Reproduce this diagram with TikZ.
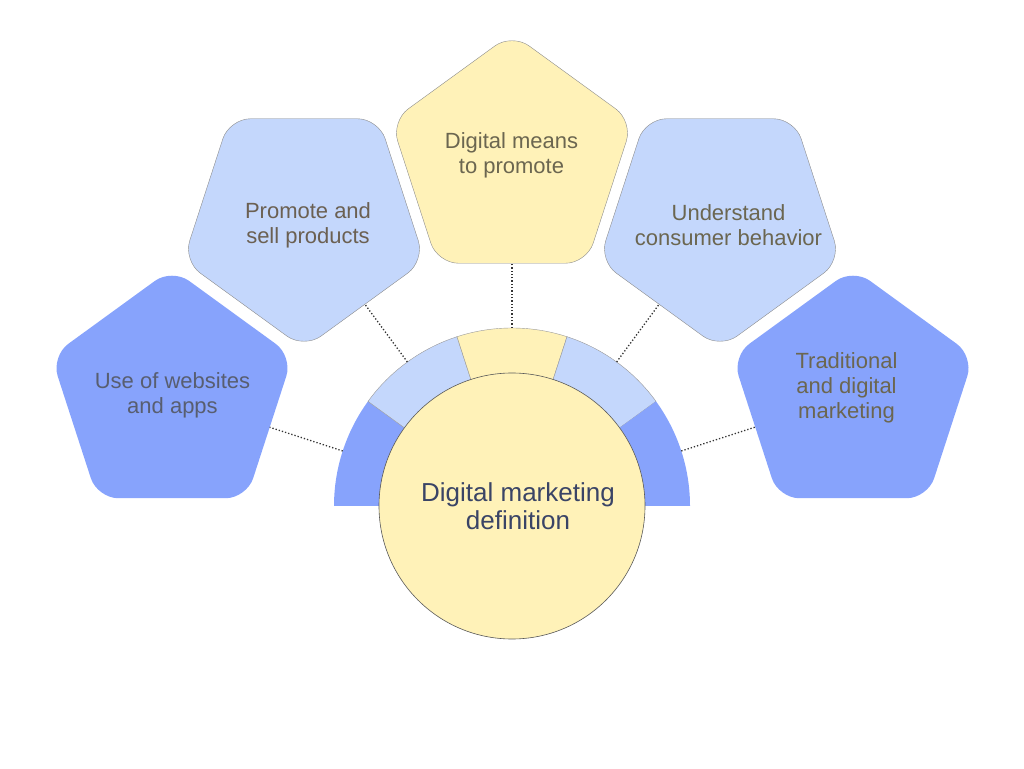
\documentclass[tikz,border=0pt]{standalone}
\usepackage{fontspec}
\setmainfont{Liberation Sans}
\usetikzlibrary{shapes.geometric,calc}
\definecolor{dkblue}{HTML}{87A3FC}
\definecolor{ltblue}{HTML}{C4D7FC}
\definecolor{pyellow}{HTML}{FFF2B8}
\definecolor{navy}{HTML}{3A4466}
\definecolor{txtA}{HTML}{585E70}
\definecolor{txtB}{HTML}{6B6052}
\definecolor{txtC}{HTML}{6B6650}
\tikzset{
  pent/.style={regular polygon, regular polygon sides=5, minimum size=254pt,
    inner sep=0pt, outer sep=0pt, rounded corners=21pt},
  pentline/.style={draw=black!45, line width=0.4pt},
  ptext/.style={align=center, font=\fontsize{22}{25}\selectfont, inner sep=0pt},
  conn/.style={draw=black!80, line width=1.3pt, dotted},
  segline/.style={draw=black!40, line width=0.4pt},
}
\begin{document}
\begin{tikzpicture}[x=1pt,y=1pt]
\useasboundingbox (0,0) rectangle (1024,768);
\coordinate (C) at (512,262);
% ring segments
\fill[dkblue] (C) -- ++(144:178) arc (144:180:178) -- cycle;
\filldraw[ltblue,segline] (C) -- ++(108:178) arc (108:144:178) -- cycle;
\filldraw[pyellow,segline] (C) -- ++(72:178) arc (72:108:178) -- cycle;
\filldraw[ltblue,segline] (C) -- ++(36:178) arc (36:72:178) -- cycle;
\fill[dkblue] (C) -- ++(0:178) arc (0:36:178) -- cycle;
% central circle
\node[circle, minimum size=266pt, inner sep=0pt, fill=pyellow, draw=black!65, line width=0.6pt,
  align=center, text=navy, font=\fontsize{26}{28.5}\selectfont] (center) at (C)
  {\hspace*{12pt}Digital marketing\\\hspace*{12pt}definition};
% pentagons
\node[pent, fill=dkblue] (p1) at (172,372.5) {};
\node[pent, fill=ltblue, pentline, shape border rotate=180] (p2) at (304,546.5) {};
\node[pent, fill=pyellow, pentline] (p3) at (512,607.5) {};
\node[pent, fill=ltblue, pentline, shape border rotate=180] (p4) at (720,546.5) {};
\node[pent, fill=dkblue] (p5) at (853,372.5) {};
% texts
\node[ptext, text=txtA] (t1) at (172.5,372.5) {Use of websites\\and apps};
\node[ptext, text=txtB] (t2) at (308,542.5) {Promote and\\sell products};
\node[ptext, text=txtC] (t3) at (511.5,612.5) {Digital means\\to promote};
\node[ptext, text=txtC] (t4) at (728.5,542.5) {Understand\\consumer behavior};
\node[ptext, text=txtC] (t5) at (846.5,380) {Traditional\\and digital\\marketing};
% connectors
\coordinate (r1) at ($(C)+(162:178)$);
\coordinate (r2) at ($(C)+(126:178)$);
\coordinate (r3) at ($(C)+(90:178)$);
\coordinate (r4) at ($(C)+(54:178)$);
\coordinate (r5) at ($(C)+(18:178)$);
\draw[conn] (r1) -- (p1);
\draw[conn] (r2) -- (p2);
\draw[conn] (r3) -- (p3);
\draw[conn] (r4) -- (p4);
\draw[conn] (r5) -- (p5);
\end{tikzpicture}
\end{document}
